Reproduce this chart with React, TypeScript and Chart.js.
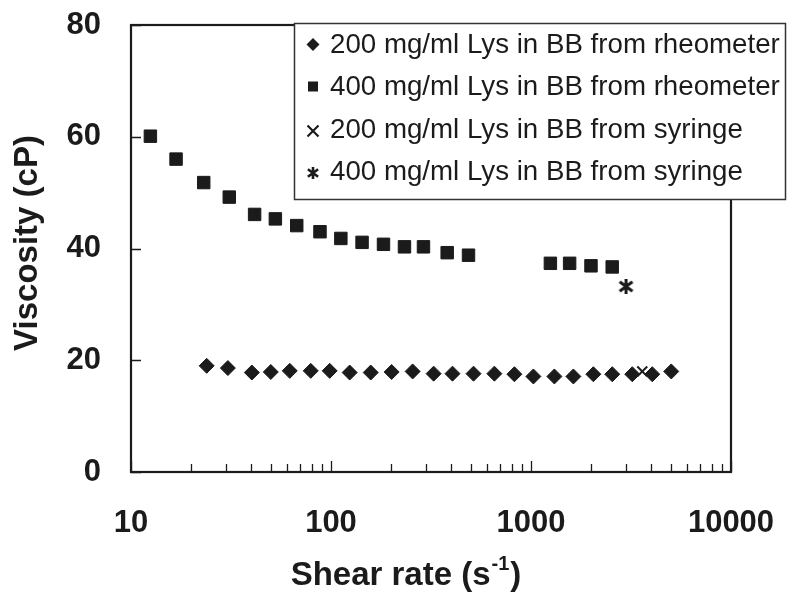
import React, { useEffect, useRef } from 'react';
import { Chart, registerables } from 'chart.js';

Chart.register(...registerables);

// ---- data ----
const rheo200X = [23.9, 30.5, 40.2, 50.0, 62.2, 79.2, 98.5, 124, 158, 201, 256, 326, 405, 516, 656, 826, 1028, 1309, 1629, 2050, 2549, 3209, 4040, 5027];
const rheo200Y = [19.0, 18.6, 17.8, 17.9, 18.1, 18.1, 18.1, 17.8, 17.8, 17.9, 18.0, 17.6, 17.6, 17.6, 17.6, 17.5, 17.1, 17.1, 17.1, 17.5, 17.5, 17.5, 17.5, 18.0];
const rheo400X = [12.5, 16.8, 23.1, 31.0, 41.5, 52.7, 67.4, 88.1, 112, 143, 183, 233, 290, 381, 487, 1250, 1560, 1995, 2547];
const rheo400Y = [60.1, 56.0, 51.8, 49.2, 46.1, 45.3, 44.1, 43.0, 41.8, 41.1, 40.75, 40.3, 40.3, 39.25, 38.8, 37.35, 37.35, 36.9, 36.7];
const syr200X = [3600];
const syr200Y = [18.0];
const syr400X = [2986];
const syr400Y = [33.2];

const seriesLabels = [
  '200 mg/ml Lys in BB from rheometer',
  '400 mg/ml Lys in BB from rheometer',
  '200 mg/ml Lys in BB from syringe',
  '400 mg/ml Lys in BB from syringe',
];
const xTickValues = [10, 100, 1000, 10000];
const yTickValues = [0, 20, 40, 60, 80];
const xMinorMultipliers = [2, 3, 4, 5, 6, 7, 8, 9];
const xTitleMain = 'Shear rate (s';
const xTitleSup = '-1';
const xTitleEnd = ')';
const yTitle = 'Viscosity (cP)';

const INK = '#1b1b1b';
const FONT = '"Liberation Sans", Arial, sans-serif';

function makeAsterisk(size: number, lw: number): HTMLCanvasElement {
  const c = document.createElement('canvas');
  c.width = size;
  c.height = size;
  const ctx = c.getContext('2d')!;
  ctx.strokeStyle = INK;
  ctx.lineWidth = lw;
  const m = size / 2;
  const r = size / 2 - 1;
  const d = r * 0.85;
  ctx.beginPath();
  ctx.moveTo(m, m - r);
  ctx.lineTo(m, m + r);
  ctx.moveTo(m - d, m - d * 0.75);
  ctx.lineTo(m + d, m + d * 0.75);
  ctx.moveTo(m + d, m - d * 0.75);
  ctx.lineTo(m - d, m + d * 0.75);
  ctx.stroke();
  return c;
}

const toPts = (xs: number[], ys: number[]) => xs.map((x, i) => ({ x, y: ys[i] }));

export default function App() {
  const ref = useRef<HTMLCanvasElement | null>(null);

  useEffect(() => {
    document.body.style.margin = '0';
    const canvas = ref.current!;
    const star = makeAsterisk(17, 3);

    const decor = {
      id: 'decor',
      afterDraw(chart: any) {
        const ctx = chart.ctx as CanvasRenderingContext2D;
        const xs = chart.scales.x;
        const ys = chart.scales.y;
        const { left, right, top, bottom } = chart.chartArea;
        ctx.save();
        ctx.strokeStyle = INK;
        // inward ticks
        ctx.lineWidth = 1.3;
        ctx.beginPath();
        for (const v of yTickValues) {
          const py = Math.round(ys.getPixelForValue(v)) + 0.5;
          ctx.moveTo(left, py);
          ctx.lineTo(left + 10, py);
        }
        for (let k = 0; k < xTickValues.length; k++) {
          const dec = xTickValues[k];
          const px = Math.round(xs.getPixelForValue(dec)) + 0.5;
          ctx.moveTo(px, bottom);
          ctx.lineTo(px, bottom - 11);
          if (k < xTickValues.length - 1) {
            for (const m of xMinorMultipliers) {
              const qx = Math.round(xs.getPixelForValue(dec * m)) + 0.5;
              ctx.moveTo(qx, bottom);
              ctx.lineTo(qx, bottom - 8);
            }
          }
        }
        ctx.stroke();
        // frame
        ctx.lineWidth = 2.2;
        ctx.strokeRect(left, top, right - left, bottom - top);

        // titles
        ctx.fillStyle = INK;
        ctx.font = `bold 33px ${FONT}`;
        ctx.textBaseline = 'alphabetic';
        const w1 = ctx.measureText(xTitleMain).width;
        const w3 = ctx.measureText(xTitleEnd).width;
        ctx.font = `bold 20px ${FONT}`;
        const w2 = ctx.measureText(xTitleSup).width;
        const total = w1 + w2 + w3 + 2;
        let tx = 406 - total / 2;
        const base = 585;
        ctx.font = `bold 33px ${FONT}`;
        ctx.textAlign = 'left';
        ctx.fillText(xTitleMain, tx, base);
        tx += w1 + 1;
        ctx.font = `bold 20px ${FONT}`;
        ctx.fillText(xTitleSup, tx, base - 15);
        tx += w2 + 1;
        ctx.font = `bold 33px ${FONT}`;
        ctx.fillText(xTitleEnd, tx, base);

        ctx.save();
        ctx.translate(28, 243);
        ctx.rotate(-Math.PI / 2);
        ctx.textAlign = 'center';
        ctx.textBaseline = 'middle';
        ctx.font = `bold 33px ${FONT}`;
        ctx.fillText(yTitle, 0, 0);
        ctx.restore();

        // legend
        const lx = 294, ly = 23, lw = 491, lh = 176;
        ctx.fillStyle = '#ffffff';
        ctx.fillRect(lx, ly, lw, lh);
        ctx.strokeStyle = '#333333';
        ctx.lineWidth = 1.5;
        ctx.strokeRect(lx + 0.5, ly + 0.5, lw, lh);
        const rows = [44.5, 86.5, 129, 171];
        const mx = 313;
        ctx.fillStyle = INK;
        ctx.strokeStyle = INK;
        // diamond
        let y0 = rows[0];
        ctx.beginPath();
        ctx.moveTo(mx - 6.5, y0);
        ctx.lineTo(mx, y0 - 6.5);
        ctx.lineTo(mx + 6.5, y0);
        ctx.lineTo(mx, y0 + 6.5);
        ctx.closePath();
        ctx.fill();
        // square
        y0 = rows[1];
        ctx.fillRect(mx - 5, y0 - 5, 10, 10);
        // cross
        y0 = rows[2] + 2;
        ctx.lineWidth = 2.2;
        ctx.beginPath();
        ctx.moveTo(mx - 5.5, y0 - 5.5);
        ctx.lineTo(mx + 5.5, y0 + 5.5);
        ctx.moveTo(mx + 5.5, y0 - 5.5);
        ctx.lineTo(mx - 5.5, y0 + 5.5);
        ctx.stroke();
        // asterisk
        y0 = rows[3] + 2;
        ctx.drawImage(makeAsterisk(14, 2.6), mx - 7, y0 - 7);
        ctx.font = `27.7px ${FONT}`;
        ctx.textAlign = 'left';
        ctx.textBaseline = 'middle';
        for (let i = 0; i < seriesLabels.length; i++) {
          ctx.fillText(seriesLabels[i], 330, rows[i] + 1);
        }
        ctx.restore();
      },
    };

    const chart = new Chart(canvas, {
      type: 'scatter',
      data: {
        datasets: [
          {
            label: seriesLabels[0],
            data: toPts(rheo200X, rheo200Y),
            pointStyle: 'rectRot',
            pointRadius: 7.5,
            backgroundColor: INK,
            borderColor: INK,
            borderWidth: 1,
          },
          {
            label: seriesLabels[1],
            data: toPts(rheo400X, rheo400Y),
            pointStyle: 'rect',
            pointRadius: 8.8,
            backgroundColor: INK,
            borderColor: INK,
            borderWidth: 1,
          },
          {
            label: seriesLabels[2],
            data: toPts(syr200X, syr200Y),
            pointStyle: 'crossRot',
            pointRadius: 7,
            backgroundColor: INK,
            borderColor: INK,
            borderWidth: 2,
          },
          {
            label: seriesLabels[3],
            data: toPts(syr400X, syr400Y),
            pointStyle: star as any,
            pointRadius: 8,
            backgroundColor: INK,
            borderColor: INK,
          },
        ],
      },
      options: {
        animation: false,
        responsive: false,
        devicePixelRatio: 1,
        layout: { padding: { top: 25, right: 69, left: 0, bottom: 0 } },
        plugins: {
          legend: { display: false },
          tooltip: { enabled: false },
          title: { display: false },
        },
        scales: {
          x: {
            type: 'logarithmic',
            min: 10,
            max: 10000,
            grid: { display: false, drawTicks: false },
            border: { display: false },
            afterBuildTicks: (scale: any) => {
              scale.ticks = xTickValues.map((v) => ({ value: v }));
            },
            afterFit: (scale: any) => {
              scale.height = 132;
              scale.paddingLeft = 0;
              scale.paddingRight = 0;
            },
            ticks: {
              autoSkip: false,
              maxRotation: 0,
              padding: 33,
              color: INK,
              font: { family: FONT, size: 31, weight: 'bold' },
              callback: (v: any) => String(v),
            },
          },
          y: {
            type: 'linear',
            min: 0,
            max: 80,
            grid: { display: false, drawTicks: false },
            border: { display: false },
            afterFit: (scale: any) => {
              scale.width = 131;
              scale.paddingTop = 0;
              scale.paddingBottom = 0;
            },
            ticks: {
              stepSize: 20,
              padding: 30,
              color: INK,
              font: { family: FONT, size: 31, weight: 'bold' },
            },
          },
        },
      },
      plugins: [decor],
    } as any);

    return () => chart.destroy();
  }, []);

  return <canvas ref={ref} width={800} height={604} style={{ display: 'block' }} />;
}
